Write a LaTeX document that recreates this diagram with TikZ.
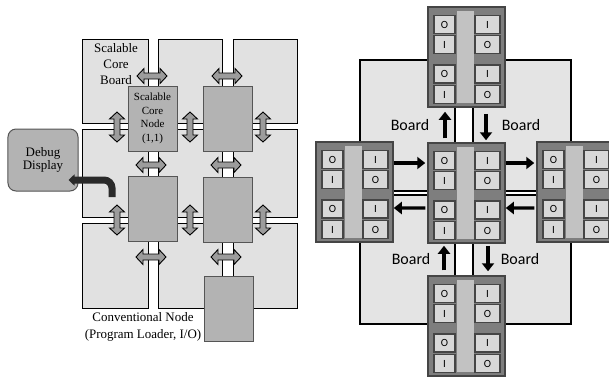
\documentclass[tikz,border=0pt]{standalone}
\usepackage{fontspec}
\setmainfont{Liberation Serif}
\newfontfamily\carl{Carlito}
\usetikzlibrary{arrows.meta}

\definecolor{boardc}{HTML}{E1E1E1}
\definecolor{nodec}{HTML}{B3B3B3}
\definecolor{nodeb}{HTML}{555555}
\definecolor{arrc}{HTML}{9C9C9C}
\definecolor{dbgc}{HTML}{2A2A2A}
\definecolor{rboard}{HTML}{E4E4E4}
\definecolor{modc}{HTML}{7E7E7E}
\definecolor{modb}{HTML}{454545}
\definecolor{stripc}{HTML}{C2C2C2}
\definecolor{cellc}{HTML}{D8D8D8}

\newcommand\tmod[3]{%
  \node[modframe] (#1) at ({#2+38.5},{#3+50}) {};
  \fill[stripc] ({#2+29},{#3+4}) rectangle ({#2+46},{#3+96});
  \foreach \ya/\la/\lb [count=\k] in {17.5/O/I,37.5/I/O,67/O/I,87.5/I/O}{%
    \node[cellL] (#1-l\k) at ({#2+16.5},{#3+\ya}) {\la};
    \node[cellR] (#1-r\k) at ({#2+59.5},{#3+\ya}) {\lb};
  }%
}

\begin{document}
\begin{tikzpicture}[x=1bp,y=-1bp,
  lboard/.style={fill=boardc,draw=black,line width=0.9bp},
  cnode/.style={draw=nodeb,fill=nodec,line width=1bp,inner sep=0pt,
    minimum width=49bp,minimum height=65bp,align=center,
    font=\fontsize{11}{13.5}\selectfont},
  darrow/.style={fill=arrc,draw=black,line width=0.9bp,line join=miter},
  hdarr/.pic={\path[darrow] (-15,0) -- (-8,-7.5) -- (-8,-3) -- (8,-3) -- (8,-7.5)
     -- (15,0) -- (8,7.5) -- (8,3) -- (-8,3) -- (-8,7.5) -- cycle;},
  vdarr/.pic={\path[darrow] (0,-15) -- (-7.5,-8) -- (-3,-8) -- (-3,8) -- (-7.5,8)
     -- (0,15) -- (7.5,8) -- (3,8) -- (3,-8) -- (7.5,-8) -- cycle;},
  rbd/.style={fill=rboard,draw=black,line width=2bp},
  modframe/.style={draw=modb,fill=modc,line width=1.5bp,inner sep=0pt,
    minimum width=77bp,minimum height=100bp},
  cellL/.style={draw=modb,fill=cellc,line width=1.6bp,inner sep=0pt,
    minimum width=21bp,minimum height=18bp,font=\carl\fontsize{11}{11}\selectfont},
  cellR/.style={cellL,minimum width=25bp},
  barrow/.style={line width=3.4bp,-{Triangle[length=8bp,width=12bp]}},
  blabel/.style={font=\carl\fontsize{16}{16}\selectfont,inner sep=0pt}
]
\useasboundingbox (0,0) rectangle (609,376);
\clip (0,0) rectangle (609,376);

% ---------------- left figure ----------------
\foreach \xa/\xb in {82/148,158/222,233/297}
  \foreach \ya/\yb in {39/123,129/217,223/308}
    \draw[lboard] (\xa,\ya) rectangle (\xb,\yb);

\node[align=center,font=\fontsize{13}{16}\selectfont,inner sep=0pt] (blab) at (116,64) {Scalable\\Core\\Board};

\node[cnode] (n11) at (152.5,118.5) {Scalable\\Core\\Node\\(1,1)};
\node[cnode] (n12) at (228,119) {};
\node[cnode] (n21) at (152.5,209) {};
\node[cnode] (n22) at (228,209.5) {};
\node[cnode] (conv) at (228.5,308.5) {};

\foreach \p in {(152,76),(227,76),(151,165),(226,165),(151,257),(226,257)}
  \pic at \p {hdarr};
\foreach \p in {(117,127),(190,127),(263,127),(117,220),(190,220),(263,220)}
  \pic at \p {vdarr};

\node[draw=nodeb,fill=nodec,rounded corners=8bp,line width=1bp,inner sep=0pt,
  minimum width=70bp,minimum height=62bp,align=center,
  font=\fontsize{13}{13.5}\selectfont] (dbg) at (43,160) {Debug\\Display};
\coordinate (dbgs) at (112,197);
\draw[dbgc,line width=7bp,rounded corners=8bp,-{Triangle[length=6bp,width=11bp]}]
  (dbgs) |- ([xshift=-10bp,yshift=-20bp]dbg.east);

\node[align=center,font=\fontsize{13}{17}\selectfont,inner sep=0pt] (clab) at (143,327)
  {Conventional Node\\(Program Loader, I/O)};

% ---------------- right figure ----------------
\draw[rbd] (360,60) rectangle (455,191);
\draw[rbd] (473,60) rectangle (571,191);
\draw[rbd] (360,195) rectangle (455,324);
\draw[rbd] (473,195) rectangle (571,324);

\tmod{T}{428}{7}
\tmod{C}{428}{143}
\tmod{L}{316}{142}
\tmod{R}{537}{142}
\tmod{B}{428}{276}

\draw[barrow,shorten >=2bp] ([yshift=29bp]L.east) -- ([yshift=30bp]C.west);
\draw[barrow,shorten >=2bp] ([yshift=30bp]C.east) -- ([yshift=29bp]R.west);
\draw[barrow,shorten <=2bp] ([yshift=-15bp]C.west) -- ([yshift=-16bp]L.east);
\draw[barrow,shorten <=2bp] ([yshift=-16bp]R.west) -- ([yshift=-15bp]C.east);

\draw[barrow,shorten <=4bp,shorten >=4bp] ([xshift=-21.5bp]C.north) -- ([xshift=-21.5bp]T.south);
\draw[barrow,shorten <=6bp,shorten >=2bp] ([xshift=19.5bp]T.south) -- ([xshift=19.5bp]C.north);
\draw[barrow,shorten <=5bp,shorten >=2bp] ([xshift=-22.5bp]B.north) -- ([xshift=-22.5bp]C.south);
\draw[barrow,shorten <=2bp,shorten >=4bp] ([xshift=21.5bp]C.south) -- ([xshift=21.5bp]B.north);

\node[blabel] (bl1) at (410,125) {Board};
\node[blabel] (bl2) at (521,125) {Board};
\node[blabel] (bl3) at (411,259) {Board};
\node[blabel] (bl4) at (520,259) {Board};
\end{tikzpicture}
\end{document}
